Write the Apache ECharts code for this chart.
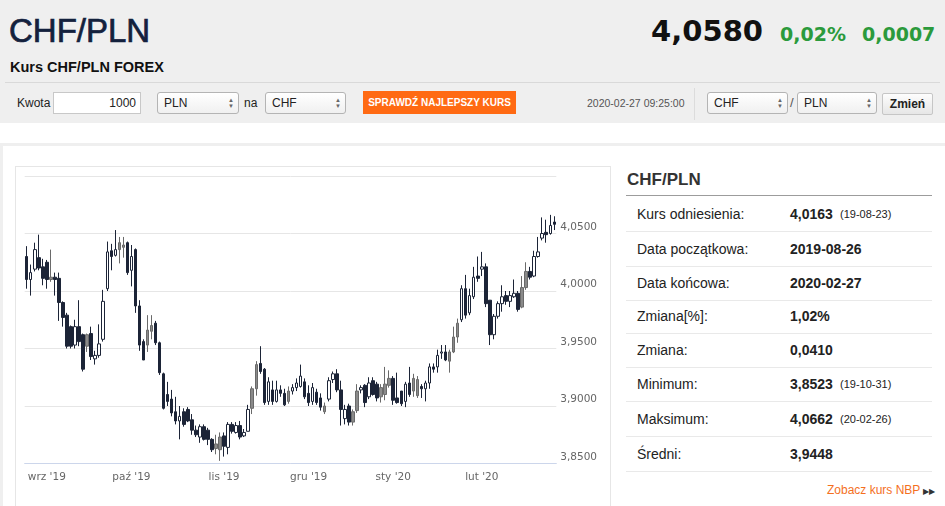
<!DOCTYPE html>
<html>
<head>
<meta charset="utf-8">
<script src="https://cdn.jsdelivr.net/npm/echarts@6/dist/echarts.min.js"></script>
<style>
  html, body { margin: 0; padding: 0; }
  body { width: 945px; height: 506px; overflow: hidden; position: relative; background: #fff; font-family: "Liberation Sans", Arial, sans-serif; color: #222; }
  .abs { position: absolute; white-space: nowrap; line-height: 1; }
  .sel { position: absolute; height: 20px; border: 1px solid #b4b4b4; border-radius: 3px; background: linear-gradient(#ffffff, #f0f0f0); font-size: 12px; line-height: 20px; padding-left: 6px; box-sizing: content-box; }
  .sel .arr { position: absolute; right: 4px; top: 4px; font-size: 6px; line-height: 6px; color: #666; text-align: center; }
  .row { position: absolute; left: 626px; width: 306px; height: 34px; border-bottom: 1px solid #e9e9e9; font-size: 14px; line-height: 34px; }
  .row .l { position: absolute; left: 11px; }
  .row .v { position: absolute; left: 164px; font-weight: bold; }
  .row .d { position: absolute; left: 214px; font-size: 11px; }
</style>
</head>
<body>
<!-- naglowek -->
<div class="abs" style="left:0;top:0;width:945px;height:123px;background:#efefef;"></div>
<div class="abs" style="left:9px;top:14px;font-size:33px;color:#13213d;-webkit-text-stroke:0.7px #13213d;">CHF/PLN</div>
<div class="abs" style="right:182px;top:17px;font-family:'DejaVu Sans';font-weight:bold;font-size:29px;color:#111;">4,0580</div>
<div class="abs" style="left:780px;top:25px;font-family:'DejaVu Sans';font-weight:bold;font-size:19px;color:#2b9a3c;">0,02%</div>
<div class="abs" style="left:862px;top:25px;font-family:'DejaVu Sans';font-weight:bold;font-size:19px;color:#2b9a3c;">0,0007</div>
<div class="abs" style="left:10px;top:60px;font-weight:bold;font-size:14.5px;color:#111;">Kurs CHF/PLN FOREX</div>
<div class="abs" style="left:5px;top:82px;width:935px;height:1px;background:#d9d9d9;"></div>

<!-- kontrolki -->
<div class="abs" style="left:17px;top:97px;font-size:12px;color:#222;">Kwota</div>
<div class="abs" style="left:53px;top:92px;width:86px;height:20px;border:1px solid #c8c8c8;background:#fff;font-size:12px;line-height:20px;text-align:right;"><span style="padding-right:4px;">1000</span></div>
<div class="sel" style="left:157px;top:92px;width:74px;">PLN<div class="arr">▲<br>▼</div></div>
<div class="abs" style="left:244px;top:97px;font-size:12px;">na</div>
<div class="sel" style="left:265px;top:92px;width:73px;">CHF<div class="arr">▲<br>▼</div></div>
<div class="abs" style="left:363px;top:91px;width:153px;height:23px;background:#ff6a13;color:#fff;font-weight:bold;font-size:10px;line-height:23px;text-align:center;">SPRAWDŹ NAJLEPSZY KURS</div>
<div class="abs" style="left:587px;top:98px;font-size:10.5px;color:#555;">2020-02-27 09:25:00</div>
<div class="abs" style="left:694px;top:88px;width:1px;height:32px;background:#dcdcdc;"></div>
<div class="sel" style="left:707px;top:92px;width:73px;">CHF<div class="arr">▲<br>▼</div></div>
<div class="abs" style="left:790px;top:96px;font-size:13px;color:#555;">/</div>
<div class="sel" style="left:797px;top:92px;width:72px;">PLN<div class="arr">▲<br>▼</div></div>
<div class="abs" style="left:882px;top:93px;width:49px;height:20px;border:1px solid #c6c6c6;border-radius:2px;background:linear-gradient(#fdfdfd,#e6e6e6);font-weight:bold;font-size:12px;line-height:20px;text-align:center;">Zmień</div>

<!-- ramki -->
<div class="abs" style="left:0;top:143px;width:945px;height:3px;background:#efefef;"></div>
<div class="abs" style="left:0;top:143px;width:3px;height:363px;background:#efefef;"></div>
<div class="abs" style="left:15px;top:166px;width:594px;height:360px;border:1px solid #e6e6e6;border-width:1px 1px 0 1px;"></div>
<div id="chart" class="abs" style="left:16px;top:167px;width:594px;height:339px;"></div>

<!-- panel -->
<div class="abs" style="left:627px;top:171px;font-size:17px;font-weight:bold;color:#333;">CHF/PLN</div>
<div class="abs" style="left:626px;top:195px;width:306px;height:1px;background:#9c9c9c;"></div>
<div class="row" style="top:197px;"><span class="l">Kurs odniesienia:</span><span class="v">4,0163</span><span class="d">(19-08-23)</span></div>
<div class="row" style="top:232px;"><span class="l">Data początkowa:</span><span class="v">2019-08-26</span></div>
<div class="row" style="top:266px;"><span class="l">Data końcowa:</span><span class="v">2020-02-27</span></div>
<div class="row" style="top:299px;"><span class="l">Zmiana[%]:</span><span class="v">1,02%</span></div>
<div class="row" style="top:333px;"><span class="l">Zmiana:</span><span class="v">0,0410</span></div>
<div class="row" style="top:367px;"><span class="l">Minimum:</span><span class="v">3,8523</span><span class="d">(19-10-31)</span></div>
<div class="row" style="top:402px;"><span class="l">Maksimum:</span><span class="v">4,0662</span><span class="d">(20-02-26)</span></div>
<div class="row" style="top:437px;"><span class="l">Średni:</span><span class="v">3,9448</span></div>
<div class="abs" style="left:827px;top:484px;font-size:12px;color:#f4701e;">Zobacz kurs NBP <span style="font-size:8px;color:#333;">▶▶</span></div>

<script>
// notowania dzienne CHF/PLN (dni robocze, bez 25.12 i 1.01)
const dates = [
  '2019-08-26','2019-08-27','2019-08-28','2019-08-29','2019-08-30',
  '2019-09-02','2019-09-03','2019-09-04','2019-09-05','2019-09-06','2019-09-09','2019-09-10','2019-09-11','2019-09-12','2019-09-13',
  '2019-09-16','2019-09-17','2019-09-18','2019-09-19','2019-09-20','2019-09-23','2019-09-24','2019-09-25','2019-09-26','2019-09-27','2019-09-30',
  '2019-10-01','2019-10-02','2019-10-03','2019-10-04','2019-10-07','2019-10-08','2019-10-09','2019-10-10','2019-10-11','2019-10-14','2019-10-15',
  '2019-10-16','2019-10-17','2019-10-18','2019-10-21','2019-10-22','2019-10-23','2019-10-24','2019-10-25','2019-10-28','2019-10-29','2019-10-30','2019-10-31',
  '2019-11-01','2019-11-04','2019-11-05','2019-11-06','2019-11-07','2019-11-08','2019-11-11','2019-11-12','2019-11-13','2019-11-14','2019-11-15',
  '2019-11-18','2019-11-19','2019-11-20','2019-11-21','2019-11-22','2019-11-25','2019-11-26','2019-11-27','2019-11-28','2019-11-29',
  '2019-12-02','2019-12-03','2019-12-04','2019-12-05','2019-12-06','2019-12-09','2019-12-10','2019-12-11','2019-12-12','2019-12-13',
  '2019-12-16','2019-12-17','2019-12-18','2019-12-19','2019-12-20','2019-12-23','2019-12-24','2019-12-26','2019-12-27','2019-12-30','2019-12-31',
  '2020-01-02','2020-01-03','2020-01-06','2020-01-07','2020-01-08','2020-01-09','2020-01-10','2020-01-13','2020-01-14','2020-01-15','2020-01-16',
  '2020-01-17','2020-01-20','2020-01-21','2020-01-22','2020-01-23','2020-01-24','2020-01-27','2020-01-28','2020-01-29','2020-01-30','2020-01-31',
  '2020-02-03','2020-02-04','2020-02-05','2020-02-06','2020-02-07','2020-02-10','2020-02-11','2020-02-12','2020-02-13','2020-02-14',
  '2020-02-17','2020-02-18','2020-02-19','2020-02-20','2020-02-21','2020-02-24','2020-02-25','2020-02-26','2020-02-27'
];

const open = [
  4.030,4.010,4.019,4.029,4.021,4.025,4.010,4.012,4.011,3.990,3.979,3.969,3.953,3.969,3.962,3.952,3.963,3.941,3.944,3.958,
  4.002,4.035,4.031,4.036,4.038,4.042,4.018,4.036,3.987,3.956,3.953,3.965,3.972,3.955,3.928,3.910,3.906,3.895,3.887,3.895,
  3.897,3.888,3.879,3.873,3.882,3.879,3.871,3.863,3.862,3.874,3.864,3.884,3.877,3.883,3.874,3.878,3.898,3.915,3.937,3.932,
  3.904,3.914,3.904,3.914,3.911,3.904,3.913,3.916,3.917,3.921,3.911,3.904,3.912,3.907,3.895,3.906,3.923,3.928,3.914,3.889,
  3.900,3.886,3.896,3.914,3.918,3.908,3.922,3.919,3.908,3.910,3.918,3.924,3.907,3.913,3.904,3.920,3.913,3.909,3.917,3.915,
  3.920,3.934,3.934,3.946,3.947,3.939,3.947,3.960,3.975,4.002,3.981,3.995,4.013,4.019,4.021,3.992,3.962,3.978,3.989,3.996,
  3.991,3.995,3.998,3.986,4.003,4.017,4.013,4.030,4.046,4.051,4.050,4.060
];
const close = [
  4.010,4.016,4.036,4.020,4.011,4.010,4.012,4.010,3.990,3.977,3.952,3.952,3.969,3.956,3.932,3.962,3.943,3.944,3.954,3.991,
  4.034,4.030,4.036,4.042,4.040,4.016,4.030,3.987,3.953,3.940,3.966,3.970,3.955,3.929,3.898,3.904,3.894,3.887,3.891,3.884,
  3.887,3.879,3.875,3.882,3.871,3.871,3.862,3.867,3.873,3.865,3.884,3.878,3.883,3.873,3.877,3.897,3.915,3.936,3.930,3.903,
  3.921,3.904,3.914,3.911,3.901,3.913,3.916,3.920,3.926,3.908,3.903,3.916,3.903,3.899,3.900,3.922,3.928,3.914,3.897,3.897,
  3.886,3.895,3.913,3.916,3.903,3.920,3.910,3.907,3.916,3.919,3.924,3.905,3.903,3.902,3.919,3.910,3.924,3.923,3.915,3.920,
  3.934,3.932,3.944,3.947,3.940,3.947,3.960,3.972,4.002,3.979,3.996,4.012,4.011,4.021,3.989,3.962,3.978,3.989,3.995,3.991,
  3.996,3.998,3.984,4.003,4.017,4.012,4.030,4.034,4.050,4.049,4.057,4.058
];
const low = [
  4.002,3.996,4.017,4.018,4.005,4.002,4.008,3.996,3.974,3.969,3.950,3.950,3.950,3.952,3.930,3.947,3.940,3.936,3.942,3.956,
  4.000,4.018,4.030,4.024,4.029,4.014,4.004,3.981,3.948,3.940,3.947,3.958,3.953,3.927,3.897,3.900,3.891,3.884,3.871,3.882,
  3.886,3.875,3.873,3.868,3.870,3.866,3.860,3.858,3.8523,3.856,3.858,3.876,3.876,3.871,3.873,3.878,3.893,3.909,3.928,3.901,
  3.901,3.901,3.903,3.908,3.900,3.902,3.910,3.913,3.916,3.906,3.900,3.901,3.901,3.896,3.893,3.904,3.920,3.912,3.883,3.884,
  3.883,3.883,3.894,3.911,3.899,3.906,3.909,3.904,3.903,3.905,3.916,3.901,3.902,3.900,3.899,3.908,3.908,3.907,3.907,3.904,
  3.915,3.929,3.929,3.941,3.939,3.929,3.946,3.955,3.973,3.976,3.979,3.993,4.008,4.013,3.986,3.953,3.958,3.976,3.982,3.988,
  3.986,3.994,3.982,3.985,4.001,4.010,4.012,4.029,4.044,4.042,4.049,4.053
];
const high = [
  4.039,4.023,4.042,4.049,4.028,4.027,4.036,4.016,4.016,3.991,3.981,3.970,3.975,3.992,3.963,3.963,3.969,3.948,3.971,4.001,
  4.043,4.041,4.053,4.047,4.047,4.043,4.040,4.037,3.992,3.958,3.979,3.979,3.974,3.956,3.929,3.921,3.914,3.908,3.900,3.898,
  3.899,3.893,3.883,3.884,3.884,3.881,3.872,3.875,3.877,3.877,3.886,3.886,3.886,3.887,3.880,3.901,3.917,3.939,3.952,3.933,
  3.925,3.922,3.922,3.918,3.915,3.917,3.919,3.924,3.936,3.924,3.918,3.920,3.915,3.911,3.903,3.925,3.930,3.932,3.922,3.901,
  3.902,3.897,3.919,3.918,3.919,3.925,3.925,3.921,3.919,3.934,3.931,3.926,3.929,3.913,3.921,3.934,3.928,3.926,3.919,3.922,
  3.937,3.937,3.949,3.953,3.953,3.949,3.969,3.976,4.005,4.014,4.002,4.021,4.030,4.034,4.024,3.992,3.980,3.991,4.005,4.000,
  4.000,4.010,4.000,4.013,4.025,4.021,4.035,4.047,4.064,4.062,4.0662,4.065
];
// swiece rysowane na szaro (indeksy od 0)
const grayIdx = [6,15,23,24,30,31,47,48,56,57,65,74,81,82,88,89,90,96,97,105,106,107,123,124];

const monthNames = ['sty','lut','mar','kwi','maj','cze','lip','sie','wrz','paź','lis','gru'];
const yTicks = { min: 3.85, max: 4.10, step: 0.05 };

// pierwszy dzien notowan w miesiacu -> etykieta osi
function isMonthStart(i) {
  return i > 0 && dates[i].slice(5, 7) !== dates[i - 1].slice(5, 7);
}

const dark = '#1c2437';
const candles = dates.map((d, i) => {
  const item = { value: [open[i], close[i], low[i], high[i]] };
  if (grayIdx.indexOf(i) >= 0) {
    item.itemStyle = { color: '#8a8a8a', color0: '#8a8a8a', borderColor: '#6a6a6a', borderColor0: '#6a6a6a' };
  }
  return item;
});

const chart = echarts.init(document.getElementById('chart'), null, { renderer: 'canvas' });
chart.setOption({
  animation: false,
  grid: { left: 8.7, top: 9, width: 531.6, height: 287.5 },
  xAxis: {
    type: 'category',
    data: dates,
    boundaryGap: true,
    axisLine: { lineStyle: { color: '#ccd6eb', width: 1 } },
    axisTick: { alignWithLabel: true, length: 9, interval: isMonthStart, lineStyle: { color: '#ccd6eb' } },
    axisLabel: {
      interval: isMonthStart,
      margin: 8,
      color: '#666',
      fontSize: 10.5,
      fontFamily: 'DejaVu Sans',
      formatter: function (v) {
        return monthNames[parseInt(v.slice(5, 7), 10) - 1] + " '" + v.slice(2, 4);
      }
    },
    splitLine: { show: false }
  },
  yAxis: {
    type: 'value',
    position: 'right',
    min: yTicks.min,
    max: yTicks.max,
    interval: yTicks.step,
    axisLine: { show: false },
    axisTick: { show: false },
    splitLine: { lineStyle: { color: '#e6e6e6', width: 1 } },
    axisLabel: {
      showMaxLabel: false,
      margin: 4,
      verticalAlign: 'bottom',
      padding: [0, 0, 1, 0],
      color: '#666',
      fontSize: 10.5,
      fontFamily: 'DejaVu Sans',
      formatter: function (v) { return v.toFixed(4).replace('.', ','); }
    }
  },
  series: [{
    type: 'candlestick',
    barWidth: 3,
    data: candles,
    itemStyle: {
      color: '#ffffff',
      color0: dark,
      borderColor: dark,
      borderColor0: dark,
      borderWidth: 1
    }
  }]
});
</script>
</body>
</html>
